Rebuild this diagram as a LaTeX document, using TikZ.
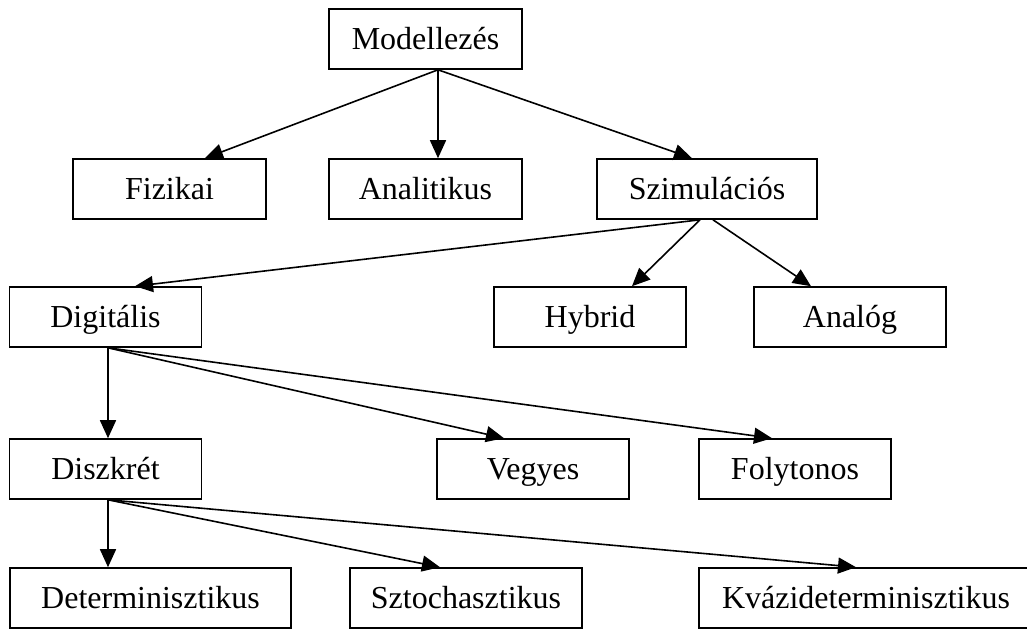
\documentclass[tikz,border=0pt]{standalone}
\usepackage{fontspec}
\setmainfont{Liberation Serif}
\usepackage{tikz}
\usetikzlibrary{arrows.meta}
\usetikzlibrary{positioning}

\begin{document}
\begin{tikzpicture}[x=1pt, y=-1pt,
		box/.style={rectangle, draw, line width=1.6pt, inner sep=0pt, minimum height=60pt, minimum width=192pt, text height=21pt, text depth=0pt, font=\fontsize{32}{38}\selectfont},
		arr/.style={line width=1.6pt, -{Triangle[length=18pt, width=16pt]}}]
				\useasboundingbox (0,0) rectangle (1027,629);
				\node[box, minimum width=193pt] (mod) at (425.5,39) {Modellezés};
				\node[box, minimum width=193pt] (fiz) at (169.5,189) {Fizikai};
				\node[box, minimum width=193pt] (ana) at (425.5,189) {Analitikus};
				\node[box, minimum width=220pt] (szim) at (707,189) {Szimulációs};
				\node[box] (dig) at (105.5,317) {Digitális};
				\node[box] (hyb) at (590,317) {Hybrid};
				\node[box] (anl) at (850,317) {Analóg};
				\node[box] (disz) at (105.5,469) {Diszkrét};
				\node[box] (veg) at (533,469) {Vegyes};
				\node[box] (fol) at (795,469) {Folytonos};
				\node[box, minimum width=281pt] (det) at (150.5,598) {Determinisztikus};
				\node[box, minimum width=232pt] (szt) at (466,598) {Sztochasztikus};
				\node[box, minimum width=334pt] (kva) at (866,598) {Kvázideterminisztikus};
				
				\draw[arr] ([xshift=12.5pt]mod.south) -- ([xshift=35.5pt]fiz.north);
				\draw[arr] ([xshift=12.5pt]mod.south) -- ([xshift=12.5pt]ana.north);
				\draw[arr] ([xshift=12.5pt]mod.south) -- ([xshift=-15pt]szim.north);
				\draw[arr] ([xshift=-7pt]szim.south) -- ([xshift=29.5pt]dig.north);
				\draw[arr] ([xshift=-7pt]szim.south) -- ([xshift=42pt]hyb.north);
				\draw[arr] ([xshift=6pt]szim.south) -- ([xshift=-39pt]anl.north);
				\draw[arr] ([xshift=2.5pt]dig.south) -- ([xshift=2.5pt]disz.north);
				\draw[arr] ([xshift=2.5pt]dig.south) -- ([xshift=-29pt]veg.north);
				\draw[arr] ([xshift=2.5pt]dig.south) -- ([xshift=-23pt]fol.north);
				\draw[arr] ([xshift=2.5pt]disz.south) -- ([xshift=-42.5pt]det.north);
				\draw[arr] ([xshift=2.5pt]disz.south) -- ([xshift=-26pt]szt.north);
				\draw[arr] ([xshift=2.5pt]disz.south) -- ([xshift=-10pt]kva.north);
			\end{tikzpicture}
\end{document}
